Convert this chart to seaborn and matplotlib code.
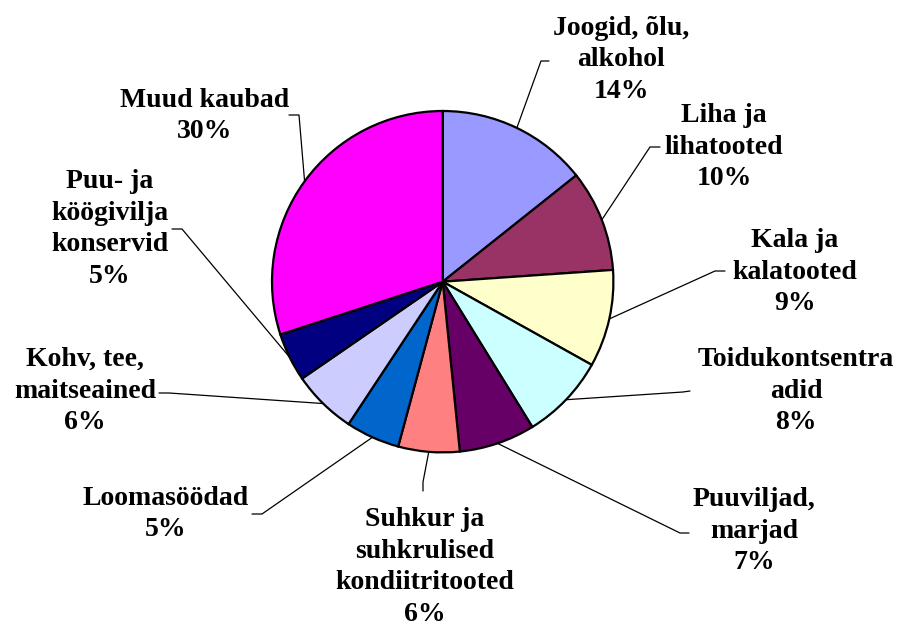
import numpy as np
import matplotlib
matplotlib.use("Agg")
import matplotlib.pyplot as plt
import seaborn as sns

# ---------------------------------------------------------------------------
# Data (clockwise from 12 o'clock)
# ---------------------------------------------------------------------------
categories = [
    "Joogid, õlu,\nalkohol",
    "Liha ja\nlihatooted",
    "Kala ja\nkalatooted",
    "Toidukontsentra\nadid",
    "Puuviljad,\nmarjad",
    "Suhkur ja\nsuhkrulised\nkondiitritooted",
    "Loomasöödad",
    "Kohv, tee,\nmaitseained",
    "Puu- ja\nköögivilja\nkonservid",
    "Muud kaubad",
]
shares = [14.3, 9.6, 9.2, 8.1, 7.2, 5.8, 5.1, 6.1, 4.6, 30.0]

colors = ["#9999FF", "#993366", "#FFFFCC", "#CCFFFF", "#660066",
          "#FF8080", "#0066CC", "#CCCCFF", "#000080", "#FF00FF"]

# ---------------------------------------------------------------------------
# Layout (pixel positions of the figure, converted to pie units below)
# ---------------------------------------------------------------------------
W, H = 899, 630
CX, CY, R = 442.7, 281.7, 170.7

label_pos = [(621, 60), (724, 147), (795, 272), (796, 391), (754, 531),
             (425, 567), (166, 514), (85, 391), (110, 229), (205, 116)]
elbows = [(541, 61), (650, 147), (715, 271), (683, 392), (680, 533),
          (423, 482), (262, 514), (169, 393), (182, 229), (299, 115)]
ends = [(549, 61), (660, 147), (725, 271), (690, 391), (689, 533),
        (423, 491), (252, 514), (159, 393), (172, 229), (289, 115)]


def px(p):
    return ((p[0] - CX) / R, (CY - p[1]) / R)


sns.set_theme(style="white")
plt.rcParams["font.family"] = ["Liberation Serif", "DejaVu Serif"]

fig = plt.figure(figsize=(W / 100, H / 100), dpi=100)
ax = fig.add_axes([0, 0, 1, 1])

wedges, _ = ax.pie(
    shares,
    colors=colors,
    startangle=90,
    counterclock=False,
    wedgeprops=dict(edgecolor="black", linewidth=1.6),
)

for i, w in enumerate(wedges):
    mid = np.deg2rad((w.theta1 + w.theta2) / 2)
    anchor = (np.cos(mid), np.sin(mid))
    e = px(elbows[i])
    t = px(ends[i])
    ax.plot([anchor[0], e[0], t[0]], [anchor[1], e[1], t[1]],
            color="black", linewidth=0.9, zorder=0)
    lx, ly = px(label_pos[i])
    ax.text(lx, ly, f"{categories[i]}\n{round(shares[i])}%",
            ha="center", va="center", fontsize=20, fontweight="bold",
            linespacing=1.36, color="black")

ax.set_xlim(-CX / R, (W - CX) / R)
ax.set_ylim((CY - H) / R, CY / R)
ax.set_aspect("equal")
ax.axis("off")

fig.savefig("out.png", dpi=100, facecolor="white")
